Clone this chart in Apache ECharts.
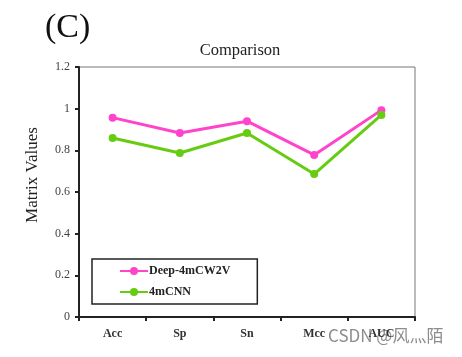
<!DOCTYPE html>
<html><head><meta charset="utf-8">
<script src="https://cdn.jsdelivr.net/npm/echarts@6/dist/echarts.min.js"></script>
<style>html,body{margin:0;padding:0;background:#fff}#c{width:462px;height:357px}</style>
</head><body><div id="c"></div>
<script>
const categories = ['Acc', 'Sp', 'Sn', 'Mcc', 'AUC'];
const deep4mCW2V = [0.957, 0.883, 0.940, 0.778, 0.993];
const cnn4m = [0.859, 0.787, 0.883, 0.686, 0.970];
const yTicks = [0, 0.2, 0.4, 0.6, 0.8, 1, 1.2];

const chart = echarts.init(document.getElementById('c'));
const serif = '"Liberation Serif", "DejaVu Serif", serif';
chart.setOption({
  animation: false,
  backgroundColor: '#fff',
  title: [
    {text: '(C)', left: 40, top: 6, textStyle: {fontFamily: serif, fontSize: 34, fontWeight: 'normal', color: '#111'}},
    {text: 'Comparison', left: 235, top: 37, textAlign: 'center', textStyle: {fontFamily: serif, fontSize: 16.5, fontWeight: 'normal', color: '#222'}}
  ],
  grid: {left: 79, right: 47, top: 67, bottom: 40, show: true, borderColor: '#777', borderWidth: 1},
  legend: {
    orient: 'vertical', left: 92, top: 259,
    padding: [6, 27, 6, 27], itemGap: 9,
    borderColor: '#222', borderWidth: 1.5,
    itemWidth: 28, itemHeight: 10,
    textStyle: {fontFamily: serif, fontSize: 12, fontWeight: 'bold', color: '#222', padding: [0, 0, 0, -4]},
    data: ['Deep-4mCW2V', '4mCNN']
  },
  xAxis: {
    type: 'category', data: categories, boundaryGap: true,
    axisLine: {lineStyle: {color: '#222', width: 2}},
    axisTick: {show: true, alignWithLabel: false, length: 4, lineStyle: {color: '#222', width: 2}},
    axisLabel: {fontFamily: serif, fontSize: 12, fontWeight: 'bold', color: '#333', margin: 11}
  },
  yAxis: {
    type: 'value', min: 0, max: 1.2, interval: 0.2,
    axisLine: {show: true, lineStyle: {color: '#222', width: 2}},
    axisTick: {show: true, length: 4, lineStyle: {color: '#222', width: 2}},
    splitLine: {show: false},
    axisLabel: {fontFamily: serif, fontSize: 12, color: '#444', margin: 9,
      formatter: v => { const t = yTicks.find(x => Math.abs(x - v) < 1e-6); return String(t !== undefined ? t : v); }}
  },
  series: [
    {name: 'Deep-4mCW2V', type: 'line', data: deep4mCW2V, symbol: 'circle', symbolSize: 8,
     lineStyle: {color: '#ff44cc', width: 3}, itemStyle: {color: '#ff44cc'}},
    {name: '4mCNN', type: 'line', data: cnn4m, symbol: 'circle', symbolSize: 8,
     lineStyle: {color: '#66cc11', width: 3}, itemStyle: {color: '#66cc11'}}
  ],
  graphic: [
    {type: 'text', x: 33, y: 175, rotation: Math.PI / 2,
     style: {text: 'Matrix Values', font: '17px "Liberation Serif", serif', fill: '#222', align: 'center', verticalAlign: 'middle'}},
    {type: 'text', left: 328, top: 327, style: {text: 'CSDN @风灬陌', font: '17px "Noto Sans CJK SC", sans-serif', fill: 'rgba(120,120,120,0.85)'}}
  ]
});
</script></body></html>
